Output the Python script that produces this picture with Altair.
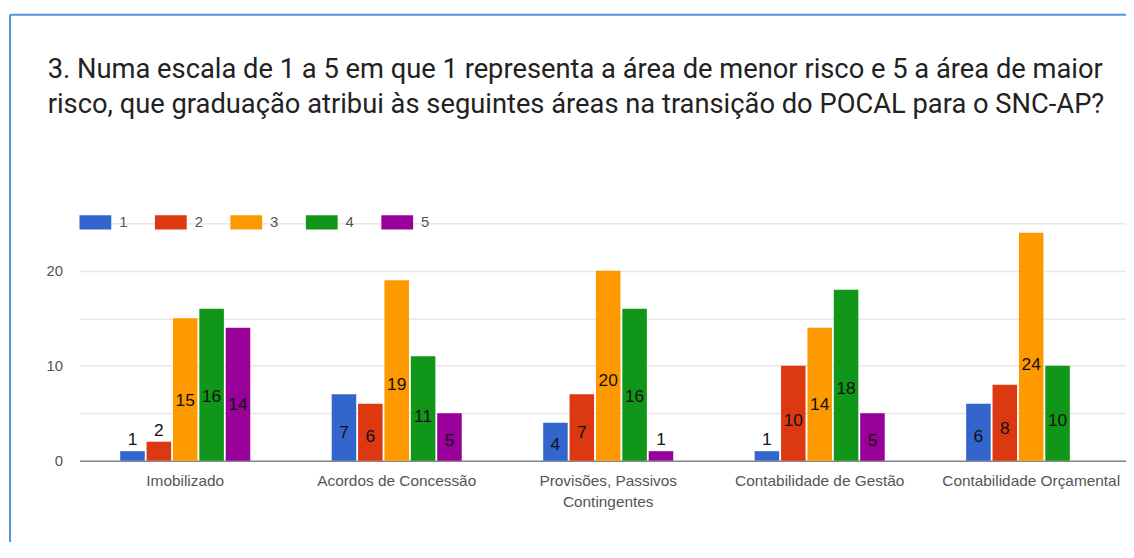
import altair as alt
import pandas as pd

categories = [
    "Imobilizado",
    "Acordos de Concessão",
    "Provisões, Passivos Contingentes",
    "Contabilidade de Gestão",
    "Contabilidade Orçamental",
]
levels = ["1", "2", "3", "4", "5"]
v1 = [1, 7, 4, 1, 6]
v2 = [2, 6, 7, 10, 8]
v3 = [15, 19, 20, 14, 24]
v4 = [16, 11, 16, 18, 10]
v5 = [14, 5, 1, 5, 0]
colors = ["#3366cc", "#dc3912", "#ff9900", "#109618", "#990099"]
title_lines = [
    "3. Numa escala de 1 a 5 em que 1 representa a área de menor risco e 5 a área de maior",
    "risco, que graduação atribui às seguintes áreas na transição do POCAL para o SNC-AP?",
]
y_ticks = [0, 5, 10, 15, 20, 25]

rows = []
for lvl, series in zip(levels, [v1, v2, v3, v4, v5]):
    for cat, v in zip(categories, series):
        rows.append({"area": cat, "nivel": lvl, "n": v})
df = pd.DataFrame(rows)

FONT = "Liberation Sans"

x_enc = alt.X(
    "area:N",
    sort=categories,
    scale=alt.Scale(range=[0, 1065], paddingInner=0.385, paddingOuter=0.1925),
    axis=alt.Axis(
        title=None,
        labelAngle=0,
        labelFont=FONT,
        labelFontSize=15.5,
        labelColor="#555555",
        labelPadding=13,
        labelLineHeight=21,
        labelBaseline="top",
        ticks=False,
        domainColor="#888888",
        domainWidth=1.5,
        labelOverlap=False,
        labelLimit=400,
        labelExpr="datum.label == 'Provisões, Passivos Contingentes' ? ['Provisões, Passivos', 'Contingentes'] : datum.label",
    ),
)
xoff = alt.XOffset("nivel:N", sort=levels, scale=alt.Scale(paddingInner=0.07))
y_scale = alt.Scale(domain=[0, 25], nice=False)

bars = alt.Chart(df).mark_bar().encode(
    x=x_enc,
    xOffset=xoff,
    y=alt.Y(
        "n:Q",
        scale=y_scale,
        axis=alt.Axis(
            values=y_ticks,
            title=None,
            labelExpr="datum.value % 10 == 0 && datum.value < 25 ? datum.label : ''",
            grid=True,
            gridColor="#e8e8e8",
            gridWidth=1.5,
            domain=False,
            ticks=False,
            labelFont=FONT,
            labelFontSize=15,
            labelColor="#555555",
            labelPadding=17,
        ),
    ),
    color=alt.Color(
        "nivel:N",
        scale=alt.Scale(domain=levels, range=colors),
        legend=alt.Legend(
            orient="none",
            legendX=0,
            legendY=-17,
            direction="horizontal",
            title=None,
            symbolType="M-1,-0.45L1,-0.45L1,0.45L-1,0.45Z",
            symbolSize=1024,
            symbolStrokeWidth=0,
            symbolOpacity=1,
            labelFont=FONT,
            labelFontSize=15,
            labelColor="#555555",
            labelOffset=8,
            columnPadding=27,
        ),
    ),
)

inside = (
    alt.Chart(df)
    .transform_filter("datum.n > 2")
    .transform_calculate(ly="datum.n * 0.42")
    .mark_text(font=FONT, fontSize=17.5, color="#111111", baseline="middle")
    .encode(x=alt.X("area:N", sort=categories), xOffset=xoff, y=alt.Y("ly:Q", scale=y_scale), text="n:Q")
)

above = (
    alt.Chart(df)
    .transform_filter("datum.n > 0 && datum.n <= 2")
    .mark_text(font=FONT, fontSize=17.5, color="#111111", baseline="middle", dy=-11)
    .encode(x=alt.X("area:N", sort=categories), xOffset=xoff, y=alt.Y("n:Q", scale=y_scale), text="n:Q")
)

one = pd.DataFrame({"k": [0]})
frame_left = alt.Chart(one).mark_rule(color="#5b8fdc", strokeWidth=2).encode(
    x=alt.value(-70), y=alt.value(-210), y2=alt.value(330)
)
frame_top = alt.Chart(one).mark_rule(color="#5b8fdc", strokeWidth=2).encode(
    x=alt.value(-70), x2=alt.value(1070), y=alt.value(-210)
)

chart = (
    alt.layer(bars, inside, above, frame_left, frame_top)
    .properties(
        width=1054,
        height=239,
        autosize=alt.AutoSizeParams(type="none"),
        padding={"left": 72, "top": 215, "right": 0, "bottom": 80},
        title=alt.TitleParams(
            text=title_lines,
            anchor="start",
            frame="group",
            font="Roboto",
            fontSize=27.5,
            fontWeight="normal",
            color="#222222",
            lineHeight=35,
            offset=0,
            dy=105,
            dx=-32,
        ),
    )
    .configure_view(stroke=None)
)

chart.save("out.html", embed_options={"renderer": "svg", "actions": False})
